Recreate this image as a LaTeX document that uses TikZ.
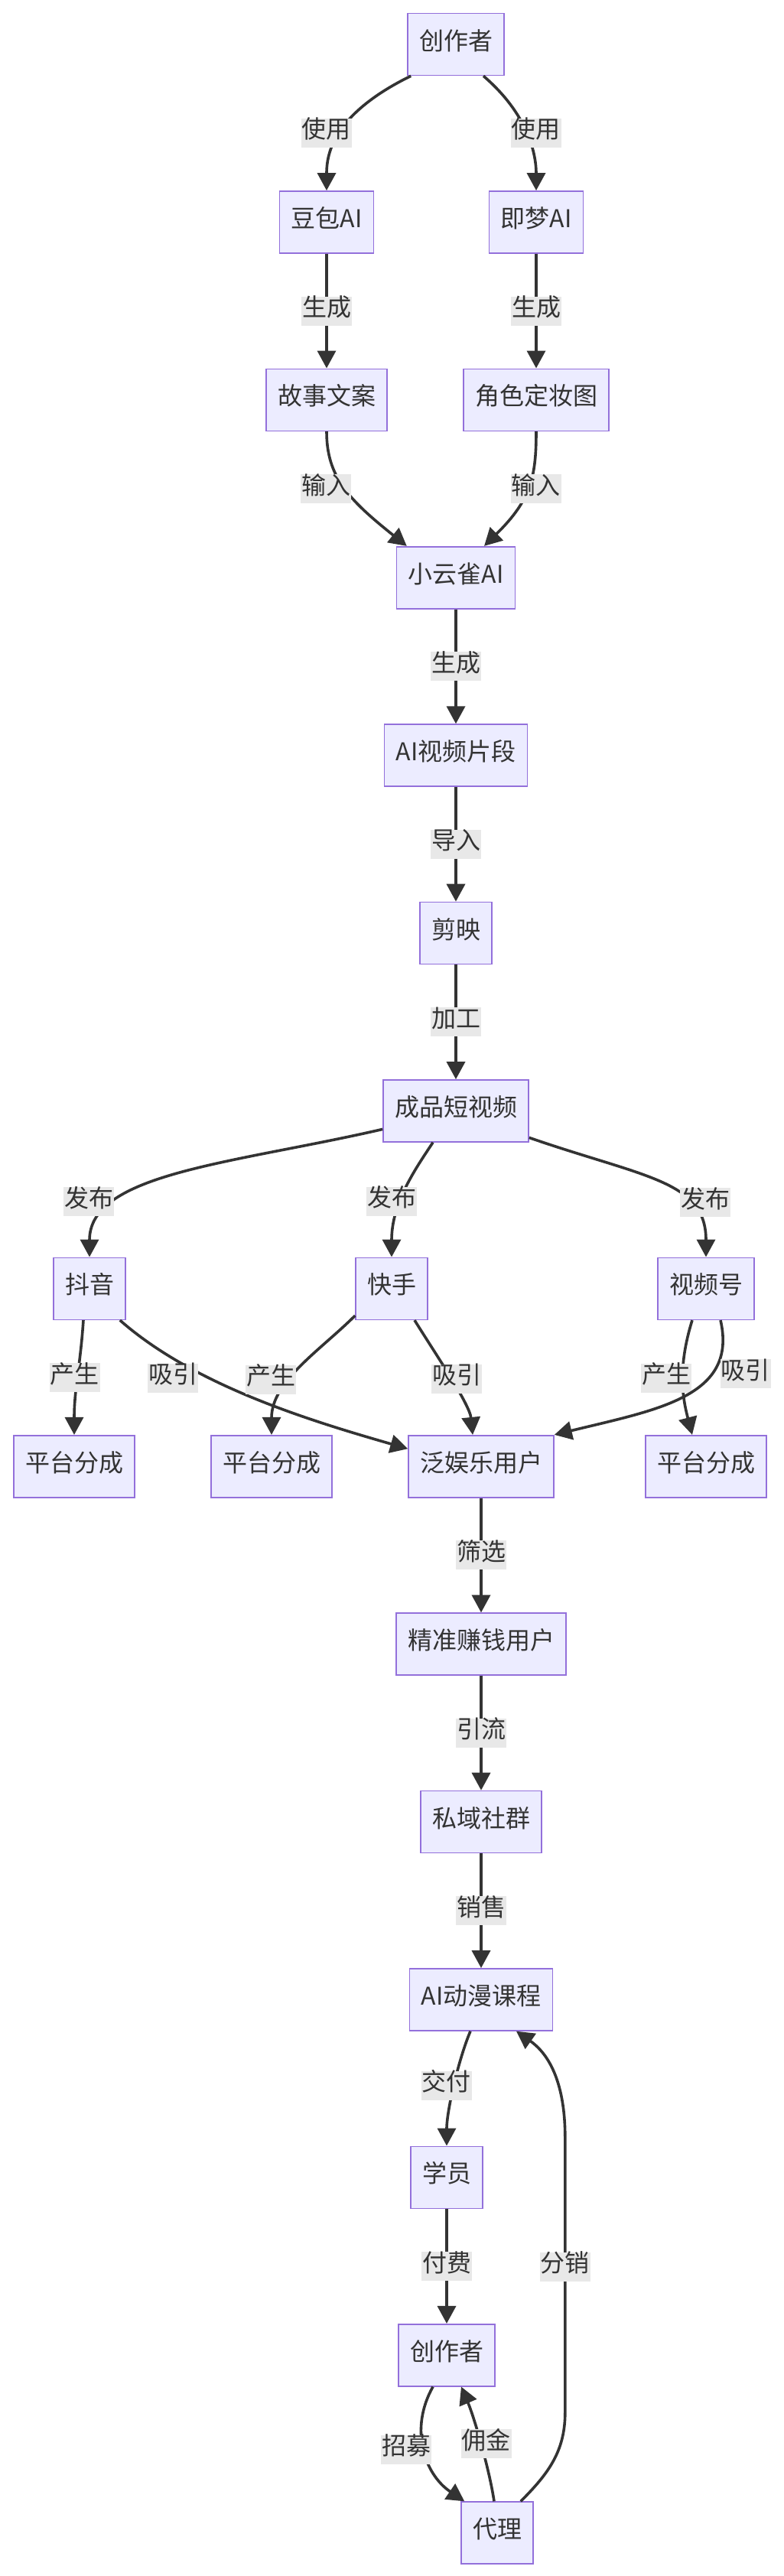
\documentclass[tikz,border=0pt]{standalone}
\usepackage{fontspec}
\setmainfont{Noto Sans CJK SC}
\usetikzlibrary{arrows.meta,positioning}
\definecolor{boxfill}{HTML}{ECECFF}
\definecolor{boxline}{HTML}{9370DB}
\definecolor{ink}{HTML}{333333}
\definecolor{lblfill}{HTML}{E8E8E8}
\begin{document}
\begin{tikzpicture}[node distance=74.9pt, every node/.style={font=\fontsize{16pt}{19pt}\selectfont,text=ink}, box/.style={draw=boxline,fill=boxfill,line width=0.8pt,minimum height=40.5pt,inner xsep=7.5pt,text height=.8em,text depth=.1em}, lbl/.style={fill=lblfill,inner sep=0pt,inner xsep=0.5pt,minimum height=19pt,text height=.8em,text depth=.1em}, arr/.style={->,draw=ink,line width=1.8pt}, >={Triangle[length=11.5pt,width=12pt]}]
\path[use as bounding box,fill=white] (0,0) rectangle (512pt,-1684pt);
\node[box] (c1) at (298pt,-29pt) {创作者};
\node[box,below=of c1,xshift=-84.5pt] (doubao) {豆包AI};
\node[box,below=of c1,xshift=52.5pt] (jimeng) {即梦AI};
\node[box,below=of doubao] (story) {故事文案};
\node[box,below=of jimeng] (role) {角色定妆图};
\node[box,below=of story,xshift=84.5pt] (xyq) {小云雀AI};
\node[box,below=of xyq] (clip) {AI视频片段};
\node[box,below=of clip] (jy) {剪映};
\node[box,below=of jy] (video) {成品短视频};
\node[box,below=of video,xshift=-239.5pt] (dy) {抖音};
\node[box,below=of video,xshift=-42pt] (ks) {快手};
\node[box,below=of video,xshift=163.5pt] (sph) {视频号};
\node[box,below=of dy,xshift=-10pt] (fc1) {平台分成};
\node[box,below=of ks,xshift=-78.5pt] (fc2) {平台分成};
\node[box,below=of ks,xshift=58.5pt] (fyl) {泛娱乐用户};
\node[box,below=of sph] (fc3) {平台分成};
\node[box,below=of fyl] (jz) {精准赚钱用户};
\node[box,below=of jz] (sy) {私域社群};
\node[box,below=of sy] (course) {AI动漫课程};
\node[box,below=of course,xshift=-22.5pt] (stu) {学员};
\node[box,below=of stu] (c2) {创作者};
\node[box,below=of c2,xshift=33pt] (agent) {代理};
\draw[arr] ([xshift=2.5pt]c1.south west) .. controls +(-50pt,-24.5pt) and +(0,25pt) .. (doubao.north) node[lbl,pos=.5,xshift=-9pt]{使用};
\draw[arr] ([xshift=18pt]c1.south) .. controls +(28.5pt,-24.5pt) and +(0,25pt) .. (jimeng.north) node[lbl,pos=.5,xshift=6.5pt]{使用};
\draw[arr] (doubao)--node[lbl]{生成}(story);\draw[arr] (jimeng)--node[lbl]{生成}(role);
\draw[arr] (story.south) .. controls +(0,-30pt) and +(-37.5pt,30pt) .. ([xshift=7pt]xyq.north west) node[lbl,pos=.5,xshift=-12.5pt]{输入};
\draw[arr] (role.south) .. controls +(0,-30pt) and +(30.5pt,30pt) .. ([xshift=18.5pt]xyq.north) node[lbl,pos=.5,xshift=5.5pt]{输入};
\draw[arr] (xyq)--node[lbl]{生成}(clip);\draw[arr] (clip)--node[lbl]{导入}(jy);\draw[arr] (jy)--node[lbl]{加工}(video);
\draw[arr] ([yshift=-12pt]video.west) .. controls +(-97.5pt,-22.5pt) and +(0,55pt) .. (dy.north) node[lbl,pos=.72,xshift=-20.5pt]{发布};
\draw[arr] ([xshift=-15pt]video.south) .. controls +(-12pt,-18pt) and +(0,35pt) .. (ks.north) node[lbl,pos=.6,xshift=-6pt]{发布};
\draw[arr] ([yshift=-17.5pt]video.east) .. controls +(75pt,-26pt) and +(0,50pt) .. (sph.north) node[lbl,pos=.68,xshift=12pt]{发布};
\draw[arr] ([xshift=-4pt]dy.south) .. controls +(-2pt,-30pt) and +(0,30pt) .. (fc1.north) node[lbl,pos=.5,xshift=-2pt]{产生};
\draw[arr] ([xshift=-4pt]dy.south east) .. controls +(48.75pt,-43pt) and +(-62.5pt,18pt) .. ([yshift=11.5pt]fyl.west) node[lbl,pos=.3,xshift=-15.5pt,yshift=-4pt]{吸引};
\draw[arr] ([yshift=3pt]ks.south west) .. controls +(-22.5pt,-22.5pt) and +(0,35pt) .. (fc2.north) node[lbl,pos=.6,xshift=-13pt]{产生};
\draw[arr] ([xshift=15pt]ks.south) .. controls +(14pt,-22.5pt) and +(-2pt,20pt) .. ([xshift=-5.5pt]fyl.north) node[lbl,pos=.5,xshift=4pt]{吸引};
\draw[arr] ([xshift=-9pt]sph.south) .. controls +(-10pt,-32pt) and +(-6pt,23pt) .. ([xshift=-9pt]fc3.north) node[lbl,pos=.5,xshift=-11pt,yshift=3pt]{产生};
\draw[arr] ([xshift=9.5pt]sph.south) .. controls +(11.5pt,-50pt) and +(67.5pt,16.5pt) .. (fyl.north east) node[lbl,pos=.3,xshift=22pt]{吸引};
\draw[arr] (fyl)--node[lbl]{筛选}(jz);\draw[arr] (jz)--node[lbl]{引流}(sy);\draw[arr] (sy)--node[lbl]{销售}(course);
\draw[arr] ([xshift=-7pt]course.south) .. controls +(-7.5pt,-17.5pt) and +(0,23pt) .. (stu.north) node[lbl,pos=.5,xshift=-5pt]{交付};
\draw[arr] (stu)--node[lbl]{付费}(c2);
\draw[arr] ([xshift=-9pt]c2.south) .. controls +(-15.5pt,-27.5pt) and +(-26.5pt,18pt) .. ([xshift=2.5pt]agent.north west) node[lbl,pos=.5,xshift=-12pt]{招募};
\draw[arr] ([xshift=-2pt]agent.north) .. controls +(-3pt,20.5pt) and +(8.5pt,-20pt) .. ([xshift=9.5pt]c2.south) node[lbl,pos=.5,xshift=3.5pt]{佣金};
\draw[arr] ([xshift=-8.5pt]agent.north east) to[out=45,in=-90] ++(29pt,58pt) -- ++(0,180pt) node[lbl,pos=.53]{分销} to[out=90,in=-35] ([xshift=23pt]course.south);
\end{tikzpicture}
\end{document}
